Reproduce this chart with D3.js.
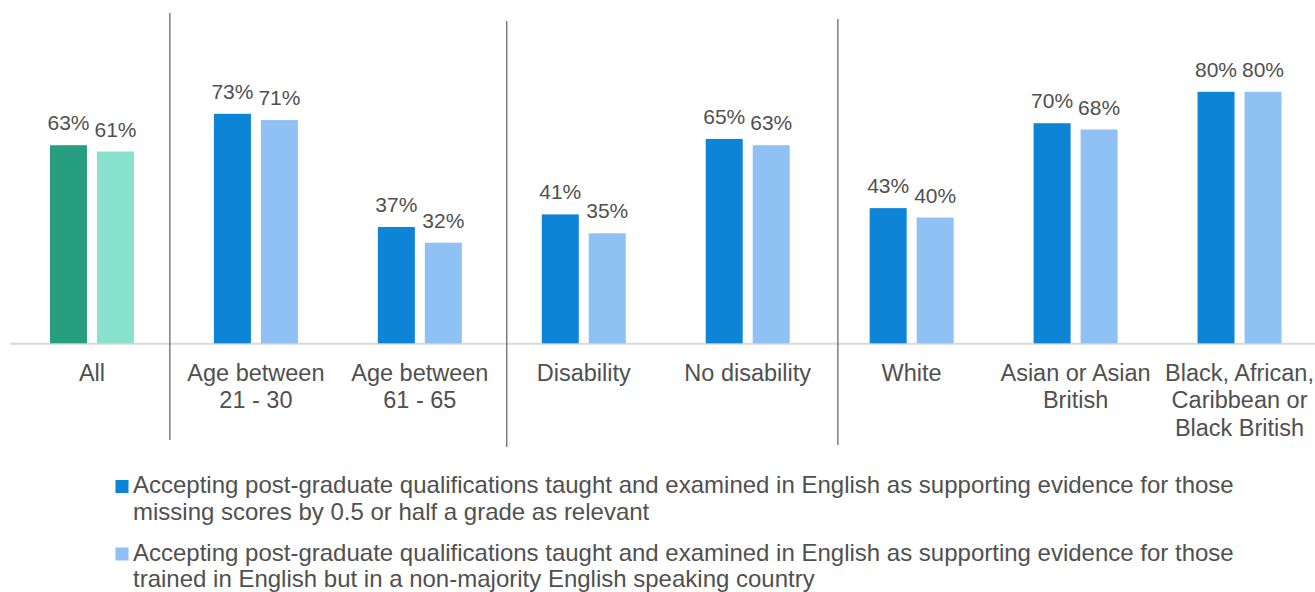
<!DOCTYPE html>
<html>
<head>
<meta charset="utf-8">
<script src="https://cdn.jsdelivr.net/npm/d3@7"></script>
<style>
  html, body { margin: 0; padding: 0; background: #fff; }
  svg { display: block; font-family: "Liberation Sans", Arial, sans-serif; }
</style>
</head>
<body>
<svg id="chart" width="1315" height="592"></svg>
<script>
// Categories (multi-line labels split by "|")
const categories = [
  "All",
  "Age between|21 - 30",
  "Age between|61 - 65",
  "Disability",
  "No disability",
  "White",
  "Asian or Asian|British",
  "Black, African,|Caribbean or|Black British"
];

// Share accepting, per series (percent)
const missingScores = [63, 73, 37, 41, 65, 43, 70, 80];
const nonMajorityCountry = [61, 71, 32, 35, 63, 40, 68, 80];

const seriesNames = [
  "Accepting post-graduate qualifications taught and examined in English as supporting evidence for those|missing scores by 0.5 or half a grade as relevant",
  "Accepting post-graduate qualifications taught and examined in English as supporting evidence for those|trained in English but in a non-majority English speaking country"
];

// Group dividers, in category units from the left edge of the band scale
const dividers = [0.975, 3.03, 5.05];
const dividerTops = [13, 21, 19];
const dividerBottoms = [440, 447, 445];

const darkColors = { first: "#279e80", rest: "#0d84d5" };
const lightColors = { first: "#88e2cd", rest: "#8fc1f4" };
const textColor = "#505050";

const svg = d3.select("#chart");

const x = d3.scaleBand().domain(d3.range(categories.length)).range([10, 1321.5]).paddingInner(0).paddingOuter(0);
const y = d3.scaleLinear().domain([0, 100]).range([343.3, 28.9]);

const barW = 37, barGap = 10;
const groupW = barW * 2 + barGap;

// Baseline
svg.append("line")
  .attr("x1", 10).attr("x2", 1315)
  .attr("y1", y(0) + 0.5).attr("y2", y(0) + 0.5)
  .attr("stroke", "#d9d9d9").attr("stroke-width", 2);

// Dividers
svg.selectAll("line.divider").data(dividers).join("line")
  .attr("class", "divider")
  .attr("x1", d => x(0) + d * x.step()).attr("x2", d => x(0) + d * x.step())
  .attr("y1", (d, i) => dividerTops[i]).attr("y2", (d, i) => dividerBottoms[i])
  .attr("stroke", "#6b6b6b").attr("stroke-width", 1.3);

const series = [
  { values: missingScores, offset: 0, colors: darkColors },
  { values: nonMajorityCountry, offset: barW + barGap, colors: lightColors }
];

series.forEach(s => {
  const g = svg.append("g");
  g.selectAll("rect").data(s.values).join("rect")
    .attr("x", (d, i) => x(i) + (x.bandwidth() - groupW) / 2 + s.offset)
    .attr("y", d => y(d))
    .attr("width", barW)
    .attr("height", d => y(0) - y(d))
    .attr("fill", (d, i) => i === 0 ? s.colors.first : s.colors.rest);
  g.selectAll("text").data(s.values).join("text")
    .attr("x", (d, i) => x(i) + (x.bandwidth() - groupW) / 2 + s.offset + barW / 2)
    .attr("y", d => y(d) - 15)
    .attr("text-anchor", "middle")
    .attr("font-size", 21)
    .attr("fill", textColor)
    .text(d => d + "%");
});

// Category labels
categories.forEach((c, i) => {
  const t = svg.append("text")
    .attr("x", x(i) + x.bandwidth() / 2)
    .attr("y", 380.5)
    .attr("text-anchor", "middle")
    .attr("font-size", 23.5)
    .attr("fill", textColor);
  c.split("|").forEach((line, k) => {
    t.append("tspan")
      .attr("x", x(i) + x.bandwidth() / 2)
      .attr("dy", k === 0 ? 0 : 27.8)
      .text(line);
  });
});

// Legend
const legendColors = [darkColors.rest, lightColors.rest];
const legendTops = [480, 547.5];
seriesNames.forEach((name, i) => {
  svg.append("rect")
    .attr("x", 115.5).attr("y", legendTops[i])
    .attr("width", 13).attr("height", 13)
    .attr("fill", legendColors[i]);
  const t = svg.append("text")
    .attr("x", 133)
    .attr("y", legendTops[i] + 13)
    .attr("font-size", 24)
    .attr("fill", textColor);
  name.split("|").forEach((line, k) => {
    t.append("tspan").attr("x", 133).attr("dy", k === 0 ? 0 : 26.5).text(line);
  });
});
</script>
</body>
</html>
